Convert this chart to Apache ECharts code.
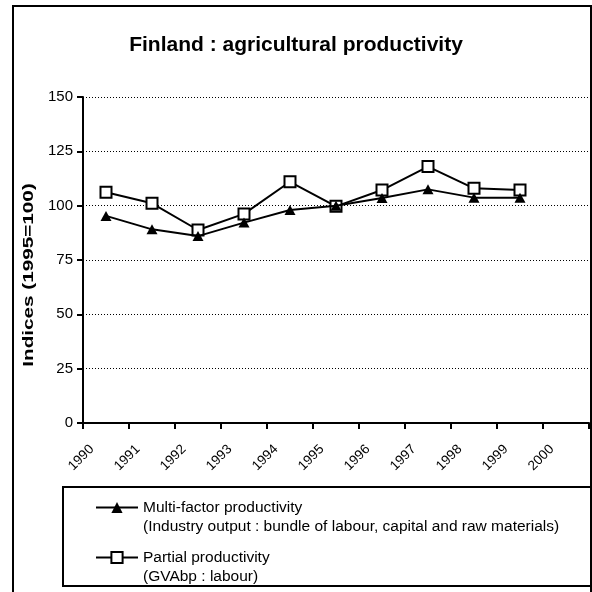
<!DOCTYPE html>
<html><head><meta charset="utf-8">
<script src="https://cdn.jsdelivr.net/npm/echarts@6/dist/echarts.min.js"></script>
<style>html,body{margin:0;padding:0;background:#fff}#c{width:592px;height:592px}</style>
</head><body><div id="c"></div>
<script>
// Finland agricultural productivity indices, 1995 = 100
const years = ['1990','1991','1992','1993','1994','1995','1996','1997','1998','1999','2000'];
const multiFactor = [95.3, 89.1, 86.0, 92.2, 98.0, 100.0, 103.5, 107.5, 103.7, 103.7, null];
const partial = [106.2, 101.1, 88.8, 96.2, 111.0, 99.7, 107.2, 118.0, 108.0, 107.2, null];
const yTicks = [0, 25, 50, 75, 100, 125, 150];

const multiName = 'Multi-factor productivity';
const partialName = 'Partial productivity';
const subtitles = {};
subtitles[multiName] = '(Industry output : bundle of labour, capital and raw materials)';
subtitles[partialName] = '(GVAbp : labour)';

const font = '"Liberation Sans", Arial, sans-serif';
const chart = echarts.init(document.getElementById('c'), null, {renderer: 'canvas'});

chart.setOption({
  animation: false,
  backgroundColor: '#fff',
  textStyle: {fontFamily: font, color: '#000'},
  title: {
    text: 'Finland : agricultural productivity',
    left: 'center', top: 30,
    textStyle: {fontFamily: font, fontSize: 21, fontWeight: 'bold', color: '#000'}
  },
  graphic: [
    {type: 'rect', shape: {x: 13, y: 6, width: 578, height: 600}, style: {fill: 'none', stroke: '#000', lineWidth: 2}, z: 100},
    {type: 'rect', shape: {x: 63, y: 487, width: 528, height: 99}, style: {fill: '#fff', stroke: '#000', lineWidth: 2}, z: 1},
    // value axis title, drawn stretched along its length
    {type: 'text', x: 29, y: 275, rotation: Math.PI / 2, scaleX: 1.38, z: 10,
      style: {text: 'Indices (1995=100)', font: 'bold 15px ' + font, fill: '#000', align: 'center', verticalAlign: 'middle'}}
  ],
  grid: {left: 83, right: 3, top: 97, bottom: 169, containLabel: false},
  legend: {
    orient: 'vertical', left: 95, top: 479, height: 200, padding: 0,
    itemWidth: 42, itemHeight: 14, itemGap: -7,
    data: [multiName, partialName],
    formatter: name => ' \n' + name + '\n' + subtitles[name],
    textStyle: {fontFamily: font, fontSize: 15.5, color: '#000', lineHeight: 19},
    z: 5
  },
  xAxis: {
    type: 'category', data: years, boundaryGap: true,
    axisLine: {lineStyle: {color: '#000', width: 2}},
    axisTick: {show: true, alignWithLabel: false, length: 6, lineStyle: {color: '#000', width: 2}},
    axisLabel: {rotate: 45, margin: 10, fontSize: 13.5, color: '#000', fontFamily: font, padding: [0, 20, 0, 0], interval: 0}
  },
  yAxis: {
    type: 'value', min: 0, max: 150, interval: 25,
    axisLine: {show: true, lineStyle: {color: '#000', width: 2}},
    axisTick: {show: true, length: 6, lineStyle: {color: '#000', width: 2}},
    axisLabel: {fontSize: 15, color: '#000', fontFamily: font, margin: 10,
      formatter: v => yTicks.includes(v) ? String(v) : ''},
    splitLine: {show: true, lineStyle: {color: '#000', type: [1, 2], width: 1}}
  },
  series: [
    {
      name: partialName, type: 'line', data: partial, z: 3,
      symbol: 'rect', symbolSize: 11,
      lineStyle: {color: '#000', width: 2},
      itemStyle: {color: '#fff', borderColor: '#000', borderWidth: 2}
    },
    {
      name: multiName, type: 'line', data: multiFactor, z: 4,
      symbol: 'triangle', symbolSize: [11, 10],
      lineStyle: {color: '#000', width: 2},
      itemStyle: {color: '#000', borderColor: '#000', borderWidth: 0}
    }
  ]
});
</script></body></html>
